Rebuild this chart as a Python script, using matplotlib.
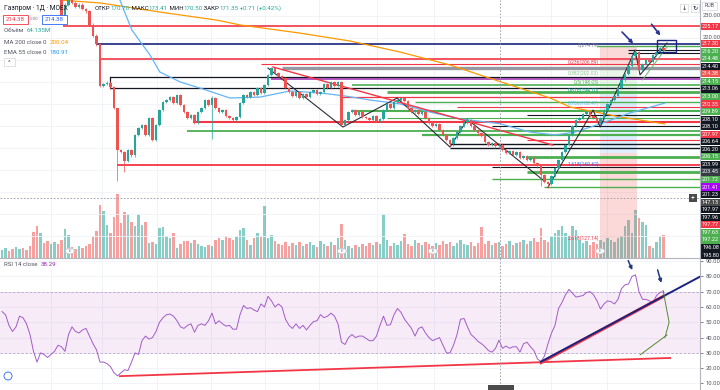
import matplotlib
matplotlib.use("Agg")
import matplotlib.pyplot as plt
from matplotlib.patches import Rectangle, Circle

plt.rcParams['font.family'] = ['Roboto', 'DejaVu Sans']

# ---------------- data ----------------
closes = [
    256.0, 257.5, 255.0, 253.0, 255.5, 257.0, 255.0, 251.0, 247.0, 243.0, 239.5, 241.5, 240.0, 238.5, 240.5, 242.0, 240.0,
    229.0, 235.0, 237.5, 236.0, 234.0, 235.0, 233.0, 232.0, 226.0, 221.0, 217.0,
    198.0, 199.0, 199.5, 197.5, 188.0, 169.0, 168.0, 164.0, 169.0, 166.6, 175.7, 178.9, 180.3,
    175.7, 183.5, 173.5, 180.3, 187.1, 190.7, 191.7, 193.0, 190.3, 193.9, 189.4, 186.2, 183.5, 184.8, 181.6, 186.2, 188.0, 191.7, 189.4, 192.6,
    188.0, 186.2, 187.1, 184.4, 183.5, 182.6, 184.0, 190.3, 193.9, 193.0, 195.3, 193.9, 197.1, 194.8, 198.5, 203.0, 206.2, 203.9, 202.6, 201.7,
    197.1, 195.3, 193.5, 195.3, 192.6, 194.4, 193.0, 195.3, 196.2, 194.4, 195.3, 199.0, 197.1, 199.8, 198.0, 199.8, 180.3, 182.6, 186.2, 187.1,
    184.8, 186.2, 184.0, 183.5, 182.6, 184.4, 182.1, 183.0, 187.1, 189.8, 188.0, 190.7, 191.7, 192.6, 191.2, 188.0, 186.2, 187.1, 185.3, 186.2,
    183.5, 181.6, 179.8, 180.7, 178.0, 175.7, 173.5, 171.6, 174.4, 177.1, 179.8, 181.6, 182.6, 179.8, 178.0, 176.6, 175.3, 172.6, 171.2, 172.1,
    170.64, 171.35, 169.0, 167.6, 168.5, 166.7, 168.0, 165.3, 166.2, 164.4, 165.3, 163.0, 161.6, 157.6, 154.4, 153.5, 157.1, 160.7, 164.4, 168.0,
    171.2, 175.7, 179.8, 182.6, 183.5, 185.3, 186.2, 184.4, 183.5, 181.8, 183.5, 187.1, 189.8, 191.7, 193.5, 197.1, 200.8, 203.5, 207.1, 211.6,
    213.4, 205.3, 208.0, 209.9, 208.9, 212.1, 213.4, 215.3, 214.38,
]
wick_high = {33: 184.0, 181: 214.79, 188: 216.2, 60: 193.5}
wick_low = {33: 155.0, 35: 159.0, 60: 174.0, 154: 152.5, 156: 151.5, 170: 181.31}

volumes = [  # millions
    32, 40, 28, 36, 44, 36, 40, 32, 48, 104, 128, 100, 60, 68, 56, 64, 56, 72, 116, 92,
    44, 36, 48, 40, 48, 56, 88, 108, 212, 188, 132, 100, 164, 256, 140, 184, 176, 144, 128, 176,
    132, 144, 60, 64, 56, 120, 124, 88, 80, 100, 40, 56, 68, 68, 60, 72, 56, 48, 44, 52,
    48, 72, 80, 72, 88, 80, 72, 88, 112, 120, 72, 52, 80, 100, 88, 208, 80, 92, 68, 56,
    52, 64, 48, 60, 52, 64, 48, 56, 64, 52, 44, 68, 56, 48, 64, 52, 80, 136, 72, 48,
    40, 52, 44, 56, 48, 60, 52, 64, 56, 176, 72, 48, 60, 52, 68, 96, 56, 48, 72, 60,
    52, 64, 56, 48, 60, 52, 68, 56, 64, 48, 60, 72, 56, 52, 64, 48, 60, 124, 56, 68,
    52, 60, 64.135, 48, 56, 68, 52, 60, 64, 72, 56, 68, 80, 64, 120, 72, 64, 88, 100, 112,
    128, 100, 88, 128, 112, 72, 60, 68, 52, 64, 56, 72, 64, 80, 72, 64, 80, 88, 128, 152,
    100, 192, 160, 144, 132, 48, 40, 64, 88, 92,
]

rsi = [
    57, 55, 48, 44, 47, 54, 53, 49, 42, 31, 24, 30, 29, 27, 29, 31, 35, 34, 31, 42,
    47, 44, 43, 45, 46, 41, 36, 32, 24, 24, 23, 21, 17, 15, 17, 19, 18.5, 24, 30, 29,
    38, 41, 39, 40, 44, 50, 53, 55, 55.4, 54, 51, 47, 46, 48, 49, 43.5, 48, 49, 48, 51,
    56, 49, 51, 49, 47.5, 48, 45.5, 45.5, 55, 61, 59, 59.5, 58, 57, 62, 60, 67, 64, 60, 62,
    60, 52, 48, 46, 49, 46, 48, 45, 48, 50.5, 51, 55, 53, 54, 56, 54, 49, 37, 35.5, 40,
    42, 40, 41, 41, 39.5, 38, 38, 41, 48, 54, 48, 48.5, 55, 59, 56.5, 52, 49, 46, 41, 46,
    47, 43, 40, 38, 39, 40, 35, 30, 30, 35, 42, 52, 52.5, 47, 42, 40, 37.5, 36, 34, 31.5,
    30.5, 33, 38.29, 33, 34.5, 33, 34, 34, 30.5, 36, 37, 34, 31.5, 26, 24.3, 28, 36, 43, 48, 59,
    63, 68, 71.5, 69, 66.5, 67, 67.5, 69.5, 70, 68, 64, 58.7, 62, 64, 63.5, 62, 65, 72, 74.5, 75,
    80, 81, 70, 65, 65, 64, 63, 67.4, 69.6, 70,
]

ma200_bar = [16.6, 28, 47.1, 61.4, 68, 85.1, 99.4, 113.7, 128, 142.3, 156.6, 162.3, 176.6, 189.4]
ma200 = [237.1, 235.8, 231.2, 228.0, 225.8, 222.1, 218.5, 213.5, 207.6, 200.04, 192.6, 188.5, 184.0, 180.8]
ema55_bar = [33.7, 37.1, 42.3, 45.1, 50.9, 56.6, 65.1, 73.7, 82.3, 90.9, 98, 105.1, 113.7, 122.3, 130.9,
             142.3, 150.9, 158, 163.7, 170.9, 179.4, 189.4]
ema55 = [237.1, 223.5, 212.1, 204.4, 199.9, 197.1, 192.6, 193.0, 195.8, 194.9, 193.5, 191.7, 189.9, 186.2,
         183.1, 180.91, 177.1, 175.8, 177.1, 180.8, 185.8, 190.3]

month_bars = [14, 28.6, 44.3, 59.7, 75.1, 90.6, 107.1, 123.4, 157, 172.9]
earn_bars = [19.4, 97.1, 123.1, 170.9]

RED, GREEN, BLACK = '#f23645', '#4caf50', '#131722'
NAVY, PURPLE, GRAY = '#1a237e', '#9c27b0', '#9598a1'

# level rays: price, first bar, colour, width
levels = [
    (225.17, 17.5, RED, 1.2), (217.30, 27.0, NAVY, 1.2), (216.20, 170.0, GREEN, 1.0),
    (214.40, 179.0, BLACK, 0.8), (213.06, 179.0, BLACK, 0.8), (210.35, 28.0, RED, 1.2),
    (207.97, 74.0, RED, 0.8), (206.20, 80.0, GRAY, 2.4), (202.10, 31.0, BLACK, 0.9),
    (201.41, 77.0, PURPLE, 1.1), (198.50, 100.0, GREEN, 1.2), (197.10, 31.0, BLACK, 0.9),
    (195.30, 110.0, GREEN, 2.0), (193.00, 96.6, RED, 0.9), (190.80, 118.0, GREEN, 1.0),
    (188.50, 130.0, RED, 0.8), (186.70, 100.0, GREEN, 1.5), (184.90, 150.0, BLACK, 0.8),
    (183.50, 110.0, GREEN, 0.8), (181.70, 54.6, RED, 1.5), (179.90, 140.0, BLACK, 0.8),
    (177.60, 53.0, GREEN, 1.3), (175.80, 120.0, GREEN, 1.6), (173.50, 150.0, RED, 0.8),
    (171.70, 128.0, BLACK, 1.0), (169.90, 128.0, BLACK, 1.0), (165.80, 150.0, GREEN, 2.0),
    (162.10, 33.0, RED, 1.3), (161.20, 140.0, BLACK, 0.8), (158.90, 150.0, GREEN, 2.0),
    (155.80, 140.0, GREEN, 1.0), (152.10, 155.0, GREEN, 1.0),
]

fib_ratio = [0, 0.236, 0.382, 0.5, 0.618, 0.786, 1.618, 2.618]
fib_color = ['#787b86', RED, '#81c784', '#4caf50', '#089981', '#64b5f6', '#2962ff', RED]
fib_hi, fib_lo = 214.79, 181.31

zig1 = ([76, 97.4, 112.9, 128, 132.9], [206.2, 179.4, 192.6, 170.3, 182.6])
zig2 = ([134.3, 154.6], [181.2, 155.3])
zig3 = ([156, 168.9, 170.9, 180.9, 182.3, 190], [152.1, 187.1, 179.4, 214.4, 203.1, 217.6])
red_trend = ([77.4, 157.4], [206.7, 171.2])

axis_labels = [
    ('225.17', RED), ('217.30', RED), ('216.20', GREEN), ('214.48', GREEN), ('214.40', BLACK),
    ('214.38', '#ef5350'), ('214.15', GREEN), ('213.06', BLACK), ('213.00', GREEN), ('210.35', RED),
    ('209.89', GREEN), ('208.10', BLACK), ('208.10', BLACK), ('207.97', RED), ('206.64', BLACK),
    ('206.20', BLACK), ('206.15', GREEN), ('203.99', BLACK), ('203.45', '#363a45'), ('201.72', GREEN),
    ('201.41', '#aa00ff'), ('201.23', BLACK), ('147.13', '#4a4a4a'), ('197.97', BLACK), ('197.96', BLACK),
    ('197.77', RED), ('197.63', GREEN), ('197.22', GREEN), ('196.08', BLACK), ('195.80', BLACK),
]

# ---------------- layout ----------------
W, H = 720, 390
PANE_R = 700
PRICE_B = 258
P_TOP, P_BOT = 237.14, 119.87
X0, X1 = -0.57, 199.43
UP, DOWN = '#26a69a', '#ef5350'

fig = plt.figure(figsize=(7.2, 3.9), dpi=100)
rect_p = [0, (H - PRICE_B) / H, PANE_R / W, PRICE_B / H]
rect_r = [0, 0, PANE_R / W, (H - PRICE_B) / H]

n = len(closes)
xs = list(range(n))
opens = [closes[0] - 1.0] + closes[:-1]
up = [c >= o for o, c in zip(opens, closes)]

# volume underneath
axv = fig.add_axes(rect_p)
axv.set_xlim(X0, X1)
axv.set_ylim(0, PRICE_B * 4)
for b in month_bars:
    axv.axvline(b, color='#f0f3fa', lw=0.7, zorder=0)
axv.bar(xs, volumes, width=0.7, color=[UP if u else DOWN for u in up], alpha=0.55, zorder=1)
axv.axis('off')

ax = fig.add_axes(rect_p)
ax.patch.set_alpha(0)
ax.set_xlim(X0, X1)
ax.set_ylim(P_BOT, P_TOP)
for p in range(130, 240, 10):
    ax.axhline(p, color='#f0f3fa', lw=0.6, zorder=0)

# position tool shading
ax.add_patch(Rectangle((170.9, 207.5), 10.5, 8.3, color='#ef5350', alpha=0.22, lw=0, zorder=1))
ax.add_patch(Rectangle((170.9, 195.0), 10.5, 12.5, color='#4caf50', alpha=0.12, lw=0, zorder=1))
ax.add_patch(Rectangle((170.9, 167.5), 10.5, 27.5, color='#2196f3', alpha=0.15, lw=0, zorder=1))
ax.add_patch(Rectangle((170.9, P_BOT), 10.5, 167.5 - P_BOT, color='#ef5350', alpha=0.22, lw=0, zorder=1))

for p, b0, c, lw in levels:
    ax.plot([b0, X1], [p, p], color=c, lw=lw, zorder=2, solid_capstyle='butt')
ax.plot([31, 31], [197.1, 202.1], color=BLACK, lw=0.9, zorder=2)
ax.plot([96.6, 96.6], [193.0, 197.1], color=RED, lw=0.9, zorder=2)

for r, c in zip(fib_ratio, fib_color):
    lv = fib_hi - r * (fib_hi - fib_lo)
    ax.text(170.6, lv + 0.6, f"{r:g}({lv:.2f})", color=c, fontsize=3.6, ha='right', va='bottom', zorder=6)

ax.plot(ma200_bar, ma200, color='#ff9800', lw=0.9, zorder=3)
ax.plot(ema55_bar, ema55, color='#64b5f6', lw=0.9, zorder=3)

for zx, zy in (zig1, zig2, zig3):
    ax.plot(zx, zy, color='#2a2e39', lw=0.8, zorder=4)
ax.plot(*red_trend, color=RED, lw=1.0, zorder=4)
ax.plot([183, 190], [200.8, 215.8], color='#66bb6a', lw=0.7, zorder=4)

# candles
highs = [wick_high.get(i, max(o, c) + 0.6) for i, (o, c) in enumerate(zip(opens, closes))]
lows = [wick_low.get(i, min(o, c) - 0.6) for i, (o, c) in enumerate(zip(opens, closes))]
cols = [UP if u else DOWN for u in up]
ax.vlines(xs, lows, highs, colors=cols, lw=0.5, zorder=5)
ax.bar(xs, [max(abs(c - o), 0.3) for o, c in zip(opens, closes)],
       bottom=[min(o, c) for o, c in zip(opens, closes)], width=0.62, color=cols, zorder=5)

# navy marks
ax.add_patch(Rectangle((187.1, 213.5), 5.5, 5.4, fill=False, ec=NAVY, lw=1.0, zorder=6))
for (a, b) in [((176.6, 223.5), (180.9, 216.4)), ((185.1, 227.1), (188.6, 220.0))]:
    ax.annotate('', xy=b, xytext=a, arrowprops=dict(arrowstyle='-|>', color='#283593', lw=1.2,
                                                    mutation_scale=5), zorder=6)

# crosshair
ax.axvline(142.3, color='#9598a1', lw=0.6, ls=(0, (2, 2)), zorder=6)
ax.axhline(147.13, color='#9598a1', lw=0.6, ls=(0, (2, 2)), zorder=6)
for b in earn_bars:
    ax.add_patch(Circle((b, 123.0), 1.3, transform=ax.transData, fc='white', ec='#c0c3cc', lw=0.6, zorder=7))
    ax.text(b, 123.0, 'E', fontsize=3.2, color='#787b86', ha='center', va='center', zorder=8)
ax.axis('off')

# RSI pane
ar = fig.add_axes(rect_r)
ar.set_xlim(X0, X1)
ar.set_ylim(5.75, 92.03)
for b in month_bars:
    ar.axvline(b, color='#f0f3fa', lw=0.7, zorder=0)
for v in range(10, 100, 10):
    ar.axhline(v, color='#f0f3fa', lw=0.6, zorder=0)
ar.axhspan(30, 70, color='#9c27b0', alpha=0.09, lw=0)
ar.axhline(70, color='#b9a7cc', lw=0.6, ls=(0, (3, 2)))
ar.axhline(30, color='#b9a7cc', lw=0.6, ls=(0, (3, 2)))
ar.plot(xs, rsi, color='#a25bc8', lw=0.7, zorder=3)
ar.plot([33.7, 190.9], [14.8, 26.7], color=RED, lw=1.3, zorder=4)
ar.plot([154, 189], [23.6, 67.0], color=RED, lw=2.2, zorder=4)
ar.plot([154, 199.4], [24.3, 79.8], color=NAVY, lw=1.4, zorder=5)
ar.plot([182.3, 190], [28.7, 41.7], color='#558b2f', lw=0.7, zorder=5)
ar.plot([188.9, 190.6, 189.4], [70.7, 50, 40], color='#558b2f', lw=0.7, zorder=5)
ar.axvline(142.3, color='#9598a1', lw=0.6, ls=(0, (2, 2)), zorder=6)
for (a, b) in [((178.6, 92.0), (180.4, 82.5)), ((187.1, 86.0), (188.6, 74.0))]:
    ar.annotate('', xy=b, xytext=a, arrowprops=dict(arrowstyle='-|>', color='#1f3a78', lw=1.1,
                                                    mutation_scale=5), zorder=7)
ar.set_yticks(range(10, 100, 10))
ar.set_yticklabels([f"{v}.00" for v in range(10, 100, 10)])
ar.yaxis.tick_right()
ar.tick_params(axis='y', labelsize=4.2, colors='#50535e', length=2, width=0.5, pad=2)
ar.set_xticks([])
for s in ar.spines.values():
    s.set_visible(False)

# overlay in pixel coordinates: axis column, legend, separators
ov = fig.add_axes([0, 0, 1, 1])
ov.set_xlim(0, W)
ov.set_ylim(H, 0)
ov.axis('off')
ov.plot([PANE_R, PANE_R], [0, H], color='#b2b5be', lw=0.8)
ov.plot([0, PANE_R], [PRICE_B, PRICE_B], color='#b2b5be', lw=0.8)

def py(p):
    return (P_TOP - p) / (P_TOP - P_BOT) * PRICE_B

for t, p in [('230.00', 230), ('220.00', 220)]:
    ov.text(703, py(p), t, fontsize=4.2, color='#50535e', va='center')
prev = -10
for t, c in axis_labels:
    y = max(py(float(t)), prev + 7.55)
    prev = y
    ov.add_patch(Rectangle((701, y - 3.6), 19, 7.2, color=c, lw=0))
    ov.text(710.5, y, t, fontsize=4.0, color='white', ha='center', va='center')
ov.add_patch(Rectangle((689, py(147.13) - 3.6), 8, 7.2, color='#4a4a4a', lw=0))
ov.text(693, py(147.13), '+', fontsize=5, color='white', ha='center', va='center')
ov.add_patch(Rectangle((488, 385), 26, 6, color='#4a4a4a', lw=0))

ov.add_patch(Rectangle((702, 1.5), 15, 8, fc='white', ec='#d1d4dc', lw=0.5))
ov.text(709.5, 5.5, 'RUB', fontsize=3.8, color='#50535e', ha='center', va='center')
for xb, sym in [(680, '↓'), (691, '↻')]:
    ov.add_patch(Rectangle((xb, 4), 8, 8, fc='white', ec='#d1d4dc', lw=0.5))
    ov.text(xb + 4, 8, sym, fontsize=4.5, color='#131722', ha='center', va='center',
            family=['DejaVu Sans'])

rend = fig.canvas.get_renderer()

def runs(x, y, parts, size=4.4):
    for s, c in parts:
        t = ov.text(x, y, s, color=c, fontsize=size, ha='left', va='center')
        x += t.get_window_extent(renderer=rend).width

TXT, VAL = '#131722', '#26a69a'
runs(4, 8, [('Газпром · 1Д · MOEX', TXT)], 4.8)
runs(95, 8, [('ОТКР', TXT), ('170.70', VAL), (' МАКС', TXT), ('173.41', VAL), (' МИН', TXT),
             ('170.50', VAL), (' ЗАКР', TXT), ('171.35', VAL), (' +0.71 (+0.42%)', VAL)])
ov.add_patch(Rectangle((3, 15), 25, 9, fc='white', ec=RED, lw=0.6))
ov.text(15.5, 19.5, '214.38', fontsize=4.4, color=RED, ha='center', va='center')
ov.text(30, 19.5, '0.00', fontsize=3.2, color='#787b86', va='center')
ov.add_patch(Rectangle((42, 15), 25, 9, fc='white', ec='#2962ff', lw=0.6))
ov.text(54.5, 19.5, '214.38', fontsize=4.4, color='#2962ff', ha='center', va='center')
runs(4, 31, [('Объём  ', '#50535e'), ('64.135M', VAL)])
runs(4, 42, [('MA 200 close 0  ', '#50535e'), ('200.04', '#ff9800')])
runs(4, 53, [('EMA 55 close 0  ', '#50535e'), ('180.91', '#2196f3')])
ov.add_patch(Rectangle((4, 58), 11, 8, fc='white', ec='#d1d4dc', lw=0.5))
ov.text(9.5, 62.5, '^', fontsize=4.5, color='#50535e', ha='center', va='center')
runs(4, 265, [('RSI 14 close  ', '#50535e'), ('38.29', '#9c27b0')])
ov.add_patch(Circle((8, 376), 4, fc='white', ec='#2962ff', lw=0.6))

fig.savefig('out.png', dpi=100)
